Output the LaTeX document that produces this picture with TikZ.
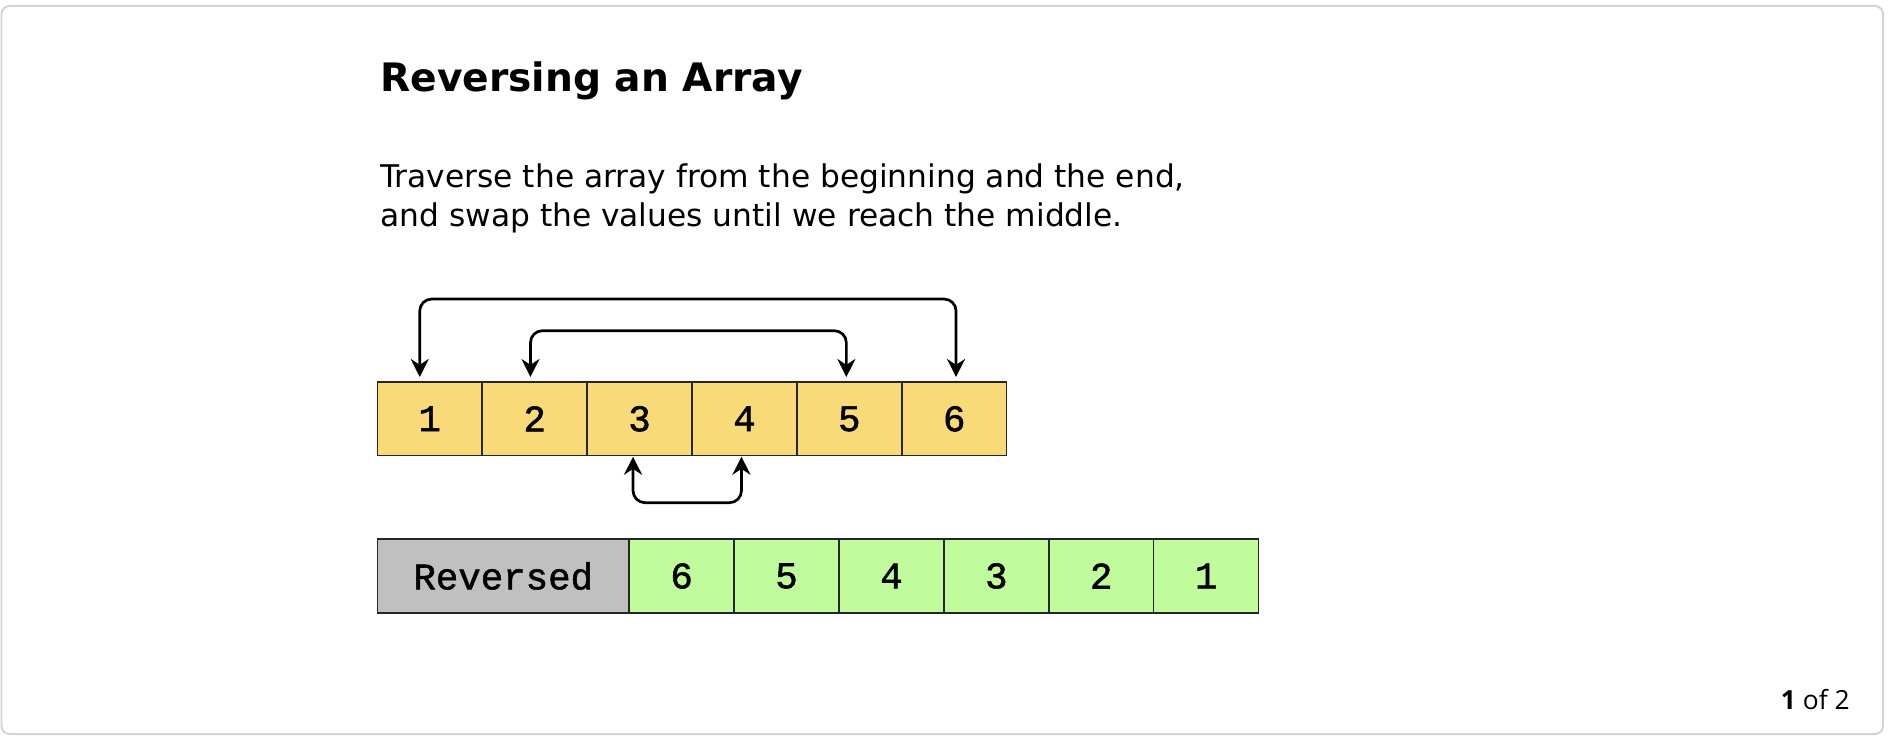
\documentclass[tikz,border=0pt]{standalone}
\usepackage{fontspec}
\setmainfont{DejaVu Sans}
\newfontfamily\cellfont[FakeBold=1.5]{Liberation Mono}
\newfontfamily\footfont{Open Sans}
\usetikzlibrary{arrows.meta}
\definecolor{cellyellow}{HTML}{F9DA78}
\definecolor{cellgreen}{HTML}{C0FC9C}
\definecolor{cellgray}{HTML}{C0C0C0}
\definecolor{framegray}{HTML}{D4D4D8}
\begin{document}
\begin{tikzpicture}[
  cell/.style={draw=black!85, line width=0.03cm, outer sep=0pt, inner sep=0pt,
    minimum width=2.098cm, minimum height=1.474cm,
    font=\cellfont\fontsize{21.3}{21.3}\selectfont},
  swap/.style={{Stealth[length=0.36cm,width=0.36cm]}-{Stealth[length=0.36cm,width=0.36cm]},
    line width=0.054cm, rounded corners=0.24cm}
]
  \useasboundingbox (0,0) rectangle (37.8,-14.72);
  \draw[framegray, line width=0.04cm, rounded corners=0.16cm] (0.03,-0.12) rectangle (37.66,-14.68);
  \node[anchor=base west, inner sep=0, font=\bfseries\fontsize{22.3}{26}\selectfont] (title) at (7.6,-1.834) {Reversing an Array};
  \node[anchor=base west, inner sep=0, align=left, font=\fontsize{17.8}{22.4}\selectfont] (desc) at (7.6,-4.534)
    {Traverse the array from the beginning and the end,\\and swap the values until we reach the middle.};
  % the array
  \foreach \v [count=\i] in {1,...,6}
    \node[cell, fill=cellyellow] (a\i) at ({6.497+2.098*\i},-8.377) {\v};
  % reversed result
  \node[cell, fill=cellgray, minimum width=5.038cm] (rev) at (10.065,-11.52) {Reversed};
  \foreach \v [count=\i] in {6,5,...,1}
    \node[cell, fill=cellgreen] (b\i) at ({11.535+2.098*\i},-11.52) {\v};
  % swaps
  \draw[swap] ([shift={(0.036,0.1)}]a6.north) |- ([shift={(-0.2,1.66)}]a1.north) -- ([shift={(-0.2,0.1)}]a1.north);
  \draw[swap] ([shift={(-0.06,0.1)}]a5.north) |- ([shift={(-0.084,1.026)}]a2.north) -- ([shift={(-0.084,0.1)}]a2.north);
  \draw[swap] ([shift={(-0.13,-0.02)}]a3.south) |- ([shift={(-0.06,-0.94)}]a4.south) -- ([shift={(-0.06,-0.02)}]a4.south);
  \node[anchor=base east, inner sep=0, font=\footfont\fontsize{15}{18}\selectfont] (page) at (37.0,-14.186) {\textbf{1} of 2};
\end{tikzpicture}
\end{document}
